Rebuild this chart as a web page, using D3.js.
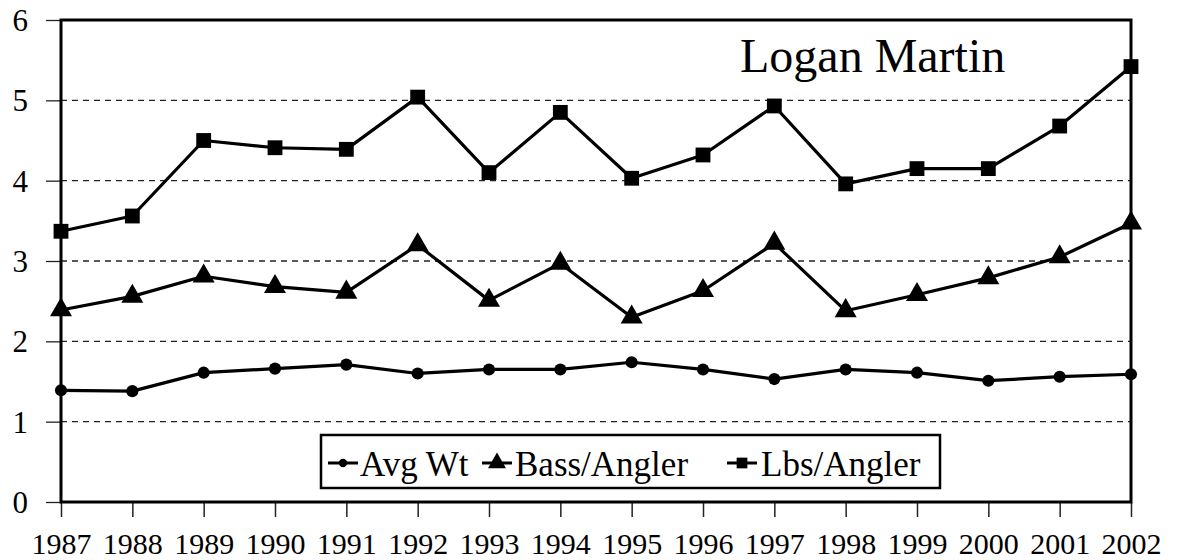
<!DOCTYPE html>
<html>
<head>
<meta charset="utf-8">
<script src="https://cdn.jsdelivr.net/npm/d3@7"></script>
<style>
  body { margin: 0; background: #fff; }
  svg { display: block; }
  text { font-family: "Liberation Serif", "Times New Roman", serif; fill: #000; }
</style>
</head>
<body>
<div id="chart"></div>
<script>
let width = 1180;
let height = 560;

// data
let years = [1987, 1988, 1989, 1990, 1991, 1992, 1993, 1994, 1995, 1996, 1997, 1998, 1999, 2000, 2001, 2002];
let avgWt = [1.39, 1.38, 1.61, 1.66, 1.71, 1.60, 1.65, 1.65, 1.74, 1.65, 1.53, 1.65, 1.61, 1.51, 1.56, 1.59];
let bassPerAngler = [2.39, 2.56, 2.81, 2.68, 2.61, 3.20, 2.51, 2.97, 2.30, 2.63, 3.22, 2.38, 2.58, 2.79, 3.05, 3.47];
let lbsPerAngler = [3.37, 3.56, 4.50, 4.41, 4.39, 5.04, 4.10, 4.85, 4.03, 4.32, 4.93, 3.96, 4.15, 4.15, 4.68, 5.42];
let yTicks = [0, 1, 2, 3, 4, 5, 6];
let seriesNames = ['Avg Wt', 'Bass/Angler', 'Lbs/Angler'];
let title = 'Logan Martin';

let plotLeft = 61, plotRight = 1131, plotTop = 20, plotBottom = 502;

let xScale = d3.scaleLinear()
    .domain([years[0], years[years.length - 1]])
    .range([plotLeft, plotRight]);

let yScale = d3.scaleLinear()
    .domain([0, 6])
    .range([plotBottom, plotTop]);

let svg = d3.select('#chart')
    .append('svg')
    .attr('width', width)
    .attr('height', height);

// dashed grid
svg.append('g')
    .selectAll('line')
    .data(yTicks.filter(d => d > 0 && d < 6))
    .enter()
    .append('line')
    .attr('x1', plotLeft)
    .attr('x2', plotRight)
    .attr('y1', d => yScale(d))
    .attr('y2', d => yScale(d))
    .attr('stroke', '#222')
    .attr('stroke-width', 1.3)
    .attr('stroke-dasharray', '6,5');

// axes
let yAxis = svg.append('g')
    .attr('transform', `translate(${plotLeft},0)`)
    .call(d3.axisLeft(yScale).tickValues(yTicks).tickSize(15).tickPadding(18).tickFormat(d3.format('d')));
yAxis.select('.domain').remove();
yAxis.selectAll('line').attr('stroke', '#222').attr('stroke-width', 1.3);
yAxis.selectAll('text').style('font-size', '31px').attr('dy', '0.34em');

let xAxis = svg.append('g')
    .attr('transform', `translate(0,${plotBottom})`)
    .call(d3.axisBottom(xScale).tickValues(years).tickSize(15).tickPadding(16).tickFormat(d3.format('d')));
xAxis.select('.domain').remove();
xAxis.selectAll('line').attr('stroke', '#222').attr('stroke-width', 1.5);
xAxis.selectAll('text').style('font-size', '30px');

// plot frame
svg.append('rect')
    .attr('x', plotLeft)
    .attr('y', plotTop)
    .attr('width', plotRight - plotLeft)
    .attr('height', plotBottom - plotTop)
    .attr('fill', 'none')
    .attr('stroke', '#000')
    .attr('stroke-width', 3);

let line = d3.line()
    .x((d, i) => xScale(years[i]))
    .y(d => yScale(d));

let allSeries = [avgWt, bassPerAngler, lbsPerAngler];

allSeries.forEach(s => {
    svg.append('path')
        .datum(s)
        .attr('d', line)
        .attr('fill', 'none')
        .attr('stroke', '#000')
        .attr('stroke-width', 3.2)
        .attr('stroke-linejoin', 'round');
});

let markerPath = [
    d3.symbol(d3.symbolCircle, 115)(),
    d3.symbol(d3.symbolTriangle, 210)(),
    d3.symbol(d3.symbolSquare, 220)()
];
let legendMarker = [
    d3.symbol(d3.symbolCircle, 55)(),
    d3.symbol(d3.symbolTriangle, 140)(),
    d3.symbol(d3.symbolSquare, 115)()
];

allSeries.forEach((s, k) => {
    svg.append('g')
        .selectAll('path')
        .data(s)
        .enter()
        .append('path')
        .attr('d', markerPath[k])
        .attr('transform', (d, i) => `translate(${xScale(years[i])},${yScale(d)})`)
        .attr('fill', '#000');
});

// title
svg.append('text')
    .attr('x', 740)
    .attr('y', 72)
    .style('font-size', '48px')
    .text(title);

// legend
let legend = svg.append('g');
legend.append('rect')
    .attr('x', 321)
    .attr('y', 435)
    .attr('width', 619)
    .attr('height', 53)
    .attr('fill', '#fff')
    .attr('stroke', '#000')
    .attr('stroke-width', 2.5);

let legendX = [343, 497, 742];
let legendTextX = [360, 515, 761];

seriesNames.forEach((name, k) => {
    legend.append('line')
        .attr('x1', legendX[k] - 15)
        .attr('x2', legendX[k] + 15)
        .attr('y1', 463)
        .attr('y2', 463)
        .attr('stroke', '#000')
        .attr('stroke-width', 3);
    legend.append('path')
        .attr('d', legendMarker[k])
        .attr('transform', `translate(${legendX[k]},463)`)
        .attr('fill', '#000');
    legend.append('text')
        .attr('x', legendTextX[k])
        .attr('y', 476)
        .style('font-size', '35px')
        .text(name);
});
</script>
</body>
</html>
